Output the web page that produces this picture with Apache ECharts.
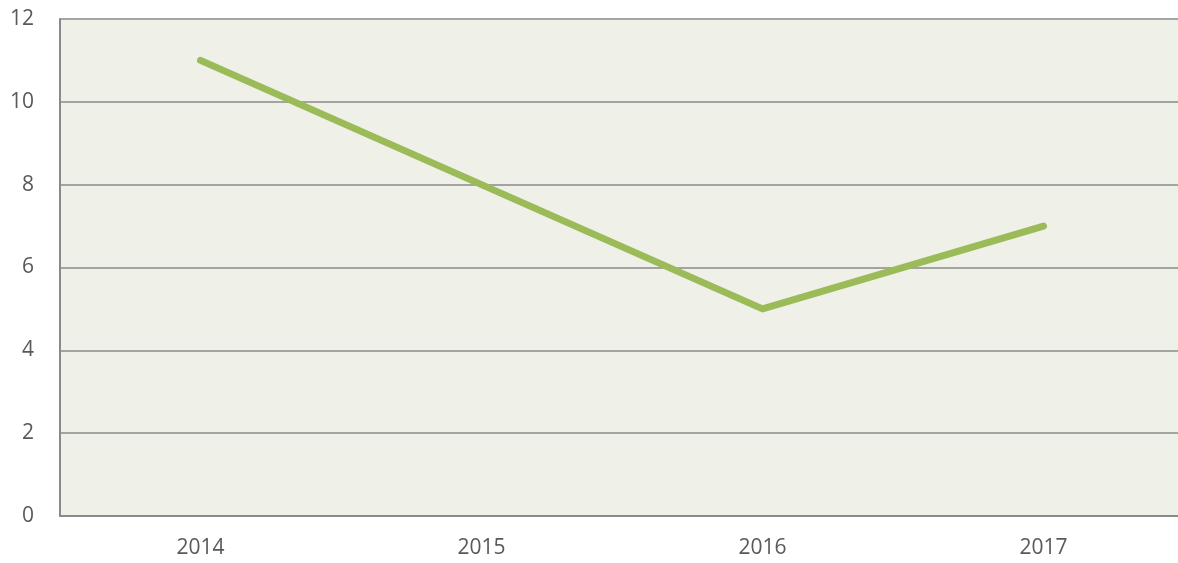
<!DOCTYPE html>
<html>
<head>
<meta charset="utf-8">
<script src="https://cdn.jsdelivr.net/npm/echarts@6/dist/echarts.min.js"></script>
<style>
html,body{margin:0;padding:0;background:#fff;overflow:hidden;width:1178px;height:563px;}
#chart{width:1184px;height:563px;}
</style>
</head>
<body>
<div id="chart"></div>
<script>
const categories = ['2014', '2015', '2016', '2017'];
const values = [11, 8, 5, 7];
const yTicks = [0, 2, 4, 6, 8, 10, 12];

const chart = echarts.init(document.getElementById('chart'), null, {renderer: 'canvas'});
chart.setOption({
  animation: false,
  backgroundColor: '#ffffff',
  grid: {
    show: true,
    left: 60,
    top: 19,
    bottom: 47,
    right: 0,
    backgroundColor: '#EFF1E8',
    borderWidth: 0
  },
  xAxis: {
    type: 'category',
    data: categories,
    boundaryGap: true,
    axisLine: {show: true, lineStyle: {color: '#8a8a8a', width: 2}},
    axisTick: {show: false},
    axisLabel: {color: '#595959', fontSize: 21, fontFamily: 'Open Sans', margin: 22}
  },
  yAxis: {
    type: 'value',
    min: yTicks[0],
    max: yTicks[yTicks.length - 1],
    interval: 2,
    axisLine: {show: true, lineStyle: {color: '#8a8a8a', width: 2}},
    axisTick: {show: false},
    axisLabel: {color: '#595959', fontSize: 21, fontFamily: 'Open Sans', margin: 26},
    splitLine: {show: true, lineStyle: {color: '#8a8a8a', width: 1.5}}
  },
  series: [{
    type: 'line',
    data: values,
    symbol: 'none',
    lineStyle: {color: '#9BBB59', width: 7, cap: 'round', join: 'round'}
  }]
});
</script>
</body>
</html>
